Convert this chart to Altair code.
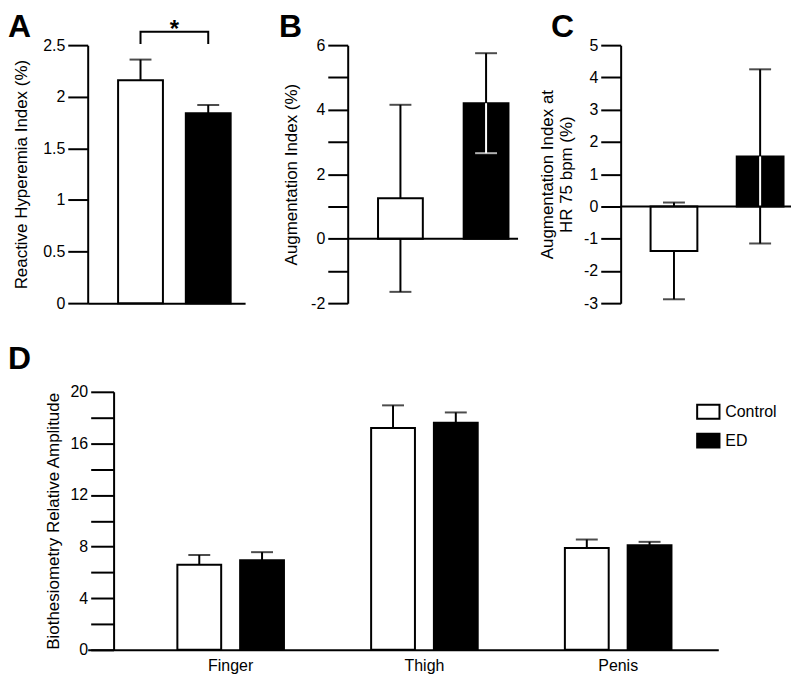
import altair as alt
import pandas as pd

# ---------------- data ----------------
groups = ["Control", "ED"]

a_mean = [2.16, 1.84]
a_err = [0.20, 0.08]

b_mean = [1.25, 4.20]
b_err = [2.90, 1.55]

c_mean = [-1.38, 1.55]
c_err = [1.50, 2.70]

regions = ["Finger", "Thigh", "Penis"]
d_control = [6.6, 17.2, 7.9]
d_control_err = [0.75, 1.75, 0.65]
d_ed = [6.95, 17.6, 8.1]
d_ed_err = [0.62, 0.80, 0.27]

sig_bracket_y = [2.51, 2.63, 2.63, 2.51]
sig_star_y = 2.645

FONT = "Liberation Sans"
LABEL_FS = 16
TITLE_FS = 17
fill_scale = alt.Scale(domain=groups, range=["white", "black"])


def letter_layer(letter, dx, dy):
    return alt.Chart(pd.DataFrame({"t": [letter]})).mark_text(
        align="left", baseline="alphabetic", fontSize=32, fontWeight="bold",
        font=FONT, color="black"
    ).encode(text="t:N", x=alt.value(dx), y=alt.value(dy))


def top_panel(letter, mean, err, domain, values, label_expr, ytitle,
              two_sided, band, width, x_axis_line, letter_dx, title_pad):
    df = pd.DataFrame({"group": groups, "mean": mean, "err": err})
    df["lo"] = df["mean"] - df["err"] if two_sided else df["mean"]
    df["hi"] = df["mean"] + df["err"]
    bar_lo = df["mean"].clip(upper=0)
    bar_hi = df["mean"].clip(lower=0)
    df["in_lo"] = pd.concat([df["lo"], bar_lo], axis=1).max(axis=1)
    df["in_hi"] = pd.concat([df["hi"], bar_hi], axis=1).min(axis=1)

    caps = []
    for _, r in df.iterrows():
        ends = [r["hi"], r["lo"]] if two_sided else [r["hi"]]
        for v in ends:
            inside = (r["group"] == "ED") and (min(0, r["mean"]) <= v <= max(0, r["mean"]))
            caps.append({"group": r["group"], "v": v, "col": "white" if inside else "black"})
    caps = pd.DataFrame(caps)
    inner = df[(df["group"] == "ED") & (df["in_lo"] < df["in_hi"])]

    pi, po, al = band
    if x_axis_line:
        xaxis = alt.Axis(title=None, ticks=False, labels=False, domain=True)
    else:
        xaxis = None
    x = alt.X("group:N", sort=groups,
              scale=alt.Scale(paddingInner=pi, paddingOuter=po, align=al),
              axis=xaxis)
    yscale = alt.Scale(domain=domain, nice=False, zero=False)
    yaxis = alt.Axis(values=values, labelExpr=label_expr, title=ytitle,
                     tickSize=20, labelPadding=3, grid=False, titlePadding=title_pad,
                     labelOverlap=False, labelSeparation=0)

    base = alt.Chart(df)
    rules = base.mark_rule(color="black", strokeWidth=2).encode(
        x=x, y=alt.Y("lo:Q", scale=yscale, axis=yaxis), y2="hi:Q")
    bars = base.mark_bar(stroke="black", strokeWidth=2).encode(
        x=x, y=alt.Y("mean:Q", scale=yscale, axis=yaxis),
        fill=alt.Fill("group:N", scale=fill_scale, legend=None))
    layers = [rules, bars]
    if len(inner):
        layers.append(alt.Chart(inner).mark_rule(color="white", strokeWidth=2).encode(
            x=x, y=alt.Y("in_lo:Q", scale=yscale, axis=yaxis), y2="in_hi:Q"))
    layers.append(alt.Chart(caps).mark_tick(size=22, thickness=2).encode(
        x=x, y=alt.Y("v:Q", scale=yscale, axis=yaxis),
        color=alt.Color("col:N", scale=None)))
    if not x_axis_line:
        layers.append(alt.Chart(pd.DataFrame({"z": [0]})).mark_rule(
            color="black", strokeWidth=2).encode(
            y=alt.Y("z:Q", scale=yscale, axis=yaxis), x=alt.value(0), x2=alt.value(width)))
    layers.append(letter_layer(letter, letter_dx, -8))
    return layers, x, yscale, yaxis


# ---------- Panel A ----------
a_layers, ax, ays, ayaxis = top_panel(
    "A", a_mean, a_err, [0, 2.5], [0, 0.5, 1, 1.5, 2, 2.5],
    "'' + datum.value", "Reactive Hyperemia Index (%)", False,
    (0.338, 0.331, 0.678), 158, True, -80, 12)
bracket = pd.DataFrame({"group": ["Control", "Control", "ED", "ED"],
                        "y": sig_bracket_y, "o": [0, 1, 2, 3]})
a_layers.append(alt.Chart(bracket).mark_line(color="black", strokeWidth=2).encode(
    x=ax, y=alt.Y("y:Q", scale=ays, axis=ayaxis), order="o:Q"))
a_layers.append(alt.Chart(pd.DataFrame({"group": ["Control"], "y": [sig_star_y], "t": ["*"]}))
                .mark_text(fontSize=24, fontWeight="bold", font=FONT, dx=34, baseline="middle")
                .encode(x=ax, y=alt.Y("y:Q", scale=ays, axis=ayaxis), text="t:N"))
panel_a = alt.layer(*a_layers).properties(width=158, height=259)

# ---------- Panel B ----------
b_layers, _, _, _ = top_panel(
    "B", b_mean, b_err, [-2, 6], list(range(-2, 7)),
    "datum.value % 2 == 0 ? '' + datum.value : ''", "Augmentation Index (%)", True,
    (0.477, 0.233, 0.76), 171, False, -69, 10)
panel_b = alt.layer(*b_layers).properties(width=171, height=259)

# ---------- Panel C ----------
c_layers, _, _, _ = top_panel(
    "C", c_mean, c_err, [-3, 5], list(range(-3, 6)),
    "'' + datum.value", ["Augmentation Index at", "HR 75 bpm (%)"], True,
    (0.457, 0.217, 0.8), 171, False, -70, 8)
panel_c = alt.layer(*c_layers).properties(width=171, height=259)

# ---------- Panel D ----------
dd = pd.DataFrame({
    "region": regions * 2,
    "group": ["Control"] * 3 + ["ED"] * 3,
    "mean": d_control + d_ed,
    "err": d_control_err + d_ed_err,
})
dd["hi"] = dd["mean"] + dd["err"]
dx_enc = alt.X("region:N", sort=regions,
               scale=alt.Scale(paddingInner=0.4, paddingOuter=0.32725, align=0.669),
               axis=alt.Axis(title=None, ticks=False, labelPadding=8, labelAngle=0,
                             domain=True))
dxo = alt.XOffset("group:N", sort=groups,
                  scale=alt.Scale(paddingInner=0.302, paddingOuter=0.077))
dys = alt.Scale(domain=[0, 20], nice=False)
dyaxis = alt.Axis(values=list(range(0, 21, 2)),
                  labelExpr="datum.value % 4 == 0 ? '' + datum.value : ''",
                  title="Biothesiometry Relative Amplitude", tickSize=23,
                  labelPadding=3, grid=False, offset=-26, titlePadding=8,
                  labelOverlap=False)
dbase = alt.Chart(dd)
d_bars = dbase.mark_bar(stroke="black", strokeWidth=2).encode(
    x=dx_enc, xOffset=dxo, y=alt.Y("mean:Q", scale=dys, axis=dyaxis),
    fill=alt.Fill("group:N", scale=fill_scale,
                  legend=alt.Legend(orient="none", legendX=615, legendY=12,
                                    title=None, symbolType="M-1.6,-1H1.6V1H-1.6Z",
                                    symbolSize=196, symbolStrokeColor="black",
                                    symbolStrokeWidth=2, labelFontSize=LABEL_FS,
                                    labelFont=FONT, labelColor="black",
                                    rowPadding=7, labelOffset=9, padding=0)))
d_rules = dbase.mark_rule(color="black", strokeWidth=2).encode(
    x=dx_enc, xOffset=dxo, y=alt.Y("mean:Q", scale=dys, axis=dyaxis), y2="hi:Q")
d_caps = dbase.mark_tick(size=22, thickness=2, color="black").encode(
    x=dx_enc, xOffset=dxo, y=alt.Y("hi:Q", scale=dys, axis=dyaxis))
panel_d = alt.layer(d_bars, d_rules, d_caps, letter_layer("D", -80, -23)).properties(
    width=633, height=259)

top = alt.hconcat(panel_a, panel_b, panel_c, spacing=103, bounds="flush")
chart = alt.vconcat(top, panel_d, spacing=32, bounds="full").resolve_scale(
    fill="independent"
).properties(padding={"left": 0, "top": 2, "right": 0, "bottom": 0}).configure_view(
    stroke=None
).configure_axis(
    domainColor="black", domainWidth=2, tickColor="black", tickWidth=2,
    labelColor="black", titleColor="black", labelFont=FONT, titleFont=FONT,
    labelFontSize=LABEL_FS, titleFontSize=TITLE_FS, titleFontWeight="normal",
    labelOverlap=False
)

chart.save("out.html", embed_options={"renderer": "svg", "actions": False})
